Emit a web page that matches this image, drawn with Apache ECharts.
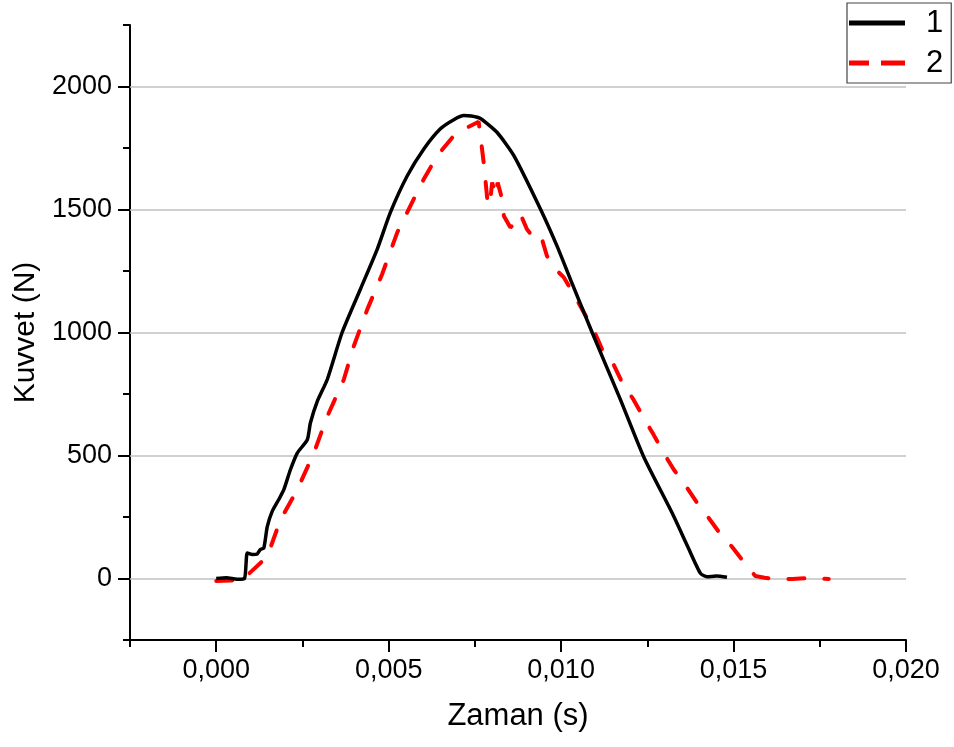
<!DOCTYPE html>
<html>
<head>
<meta charset="utf-8">
<title>Kuvvet - Zaman</title>
<script src="https://cdn.jsdelivr.net/npm/echarts@6/dist/echarts.min.js"></script>
<style>
	html, body { margin: 0; padding: 0; background: #fff; }
	#charts { width: 954px; height: 747px; }
</style>
</head>
<body>
<div id="charts"></div>
<script>
	// 1 numarali olcum: zaman (s) ve kuvvet (N)
	var time1 = [0, 0.0003, 0.0006, 0.00082, 0.0009, 0.00105, 0.00119, 0.00128, 0.00138, 0.00148,
		0.00162, 0.00181, 0.00196, 0.00215, 0.00235, 0.00264, 0.00273, 0.00293, 0.00322, 0.00365,
		0.00418, 0.00467, 0.00505, 0.00554, 0.00602, 0.0065, 0.0069, 0.00718, 0.0074, 0.00766,
		0.00814, 0.00863, 0.0094, 0.00988, 0.01027, 0.0109, 0.01172, 0.01239, 0.01322, 0.01367,
		0.01404, 0.01423, 0.0145, 0.01481];
	var force1 = [0, 3, -3, 0, 104, 98, 100, 118, 124, 211,
		272, 320, 361, 442, 510, 564, 632, 720, 809, 1000,
		1176, 1339, 1488, 1637, 1746, 1828, 1866, 1882, 1880, 1870,
		1814, 1719, 1502, 1352, 1216, 1000, 727, 496, 266, 130,
		21, 7, 10, 5];

	// 2 numarali olcum
	var time2 = [0, 0.0004, 0.00075, 0.00105, 0.00148, 0.00186, 0.00235, 0.00283, 0.00322, 0.0037,
		0.00399, 0.00438, 0.00481, 0.00525, 0.00563, 0.00602, 0.00641, 0.00689, 0.0073, 0.00761,
		0.00776, 0.00786, 0.00793, 0.008, 0.0081, 0.00816, 0.00829, 0.00834, 0.00853, 0.0087,
		0.00882, 0.00901, 0.00916, 0.0094, 0.00959, 0.00984, 0.01008, 0.01037, 0.01066, 0.01094,
		0.01119, 0.01152, 0.01177, 0.0121, 0.01239, 0.01268, 0.01297, 0.01327, 0.01365, 0.01394,
		0.01428, 0.01457, 0.01496, 0.0153, 0.01563, 0.0159, 0.01616, 0.0167, 0.01723, 0.01776];
	var force2 = [-10, -8, -6, 33, 89, 238, 361, 510, 659, 809,
		945, 1094, 1237, 1407, 1515, 1624, 1719, 1800, 1835, 1857,
		1685, 1542, 1515, 1610, 1556, 1610, 1542, 1474, 1427, 1450,
		1481, 1420, 1393, 1400, 1311, 1257, 1224, 1155, 1081, 1012,
		931, 870, 797, 727, 654, 585, 511, 442, 369, 308,
		246, 190, 128, 67, 10, 3, -2, -2, 2, -2];

	var seriesNames = ['1', '2'];
	var xTicks = [0, 0.005, 0.010, 0.015, 0.020];
	var yTicks = [0, 500, 1000, 1500, 2000];

	var FONT = '"Liberation Sans", Arial, sans-serif';

	var ForceChart = {

		init: function () {
			this.renderChart();
		},

		// [zaman, kuvvet] ciftleri
		pairs: function (xs, ys) {
			return xs.map(function (x, i) { return [x, ys[i]]; });
		},

		renderChart: function () {
			var myChart = echarts.init(document.getElementById('charts'));

			var axisLine = { show: true, onZero: false, lineStyle: { color: '#000', width: 2 } };

			var option = {
				animation: false,
				backgroundColor: '#fff',
				grid: { left: 130, right: 48, top: 25, bottom: 107 },
				legend: {
					data: [
						{ name: seriesNames[0], icon: 'path://M0,0H56V5H0Z', itemStyle: { color: '#000' } },
						{ name: seriesNames[1], icon: 'path://M0,0H20V5H0ZM32,0H56V5H32Z', itemStyle: { color: '#ff0000' } }
					],
					orient: 'vertical',
					left: 847,
					top: 3,
					itemWidth: 56,
					itemHeight: 5,
					itemGap: 8,
					padding: [4, 8, 4, 2],
					borderColor: '#444',
					borderWidth: 1.2,
					textStyle: { fontSize: 31, fontFamily: FONT, color: '#000', padding: [0, 0, 0, 16], lineHeight: 32 }
				},
				xAxis: [
					{
						type: 'value',
						min: -0.0025,
						max: 0.02,
						interval: 0.0025,
						name: 'Zaman (s)',
						nameLocation: 'middle',
						nameGap: 61,
						nameTextStyle: { fontSize: 31, fontFamily: FONT, color: '#000' },
						axisLine: axisLine,
						axisTick: { show: true, length: 7, lineStyle: { color: '#000', width: 2 } },
						axisLabel: {
							margin: 17,
							fontSize: 27,
							fontFamily: FONT,
							color: '#000',
							formatter: function (value) {
								var k = Math.round(value / 0.0025);
								if (k < 0 || k % 2 !== 0) return '';
								return value.toFixed(3).replace('.', ',');
							}
						},
						splitLine: { show: false }
					},
					{
						// uzun ana cizgiler
						type: 'value',
						position: 'bottom',
						min: -0.0025,
						max: 0.02,
						axisLine: { show: false, onZero: false },
						axisTick: { show: true, length: 12, customValues: xTicks, lineStyle: { color: '#000', width: 2 } },
						axisLabel: { show: false },
						splitLine: { show: false }
					}
				],
				yAxis: [
					{
						type: 'value',
						min: -250,
						max: 2250,
						interval: 250,
						name: 'Kuvvet (N)',
						nameLocation: 'middle',
						nameGap: 88,
						nameTextStyle: { fontSize: 30, fontFamily: FONT, color: '#000' },
						axisLine: axisLine,
						axisTick: { show: true, length: 7, lineStyle: { color: '#000', width: 2 } },
						axisLabel: {
							margin: 18,
							fontSize: 27,
							fontFamily: FONT,
							color: '#000',
							formatter: function (value) {
								return (value >= 0 && value % 500 === 0) ? String(value) : '';
							}
						},
						splitLine: { show: false }
					},
					{
						type: 'value',
						position: 'left',
						min: -250,
						max: 2250,
						axisLine: { show: false, onZero: false },
						axisTick: { show: true, length: 12, customValues: yTicks, lineStyle: { color: '#000', width: 2 } },
						axisLabel: { show: false },
						splitLine: { show: false }
					}
				],
				series: [
					{
						name: seriesNames[0],
						type: 'line',
						xAxisIndex: 0,
						yAxisIndex: 0,
						symbol: 'none',
						smooth: 0.2,
						z: 3,
						lineStyle: { color: '#000', width: 3.5, join: 'round' },
						itemStyle: { color: '#000' },
						data: this.pairs(time1, force1),
						markLine: {
							silent: true,
							z: 1,
							symbol: ['none', 'none'],
							label: { show: false },
							lineStyle: { color: '#c0c0c0', width: 1.5, type: 'solid' },
							data: yTicks.map(function (v) { return { yAxis: v }; })
						}
					},
					{
						name: seriesNames[1],
						type: 'line',
						xAxisIndex: 0,
						yAxisIndex: 0,
						symbol: 'none',
						z: 2,
						lineStyle: { color: '#ff0000', width: 4, type: [16, 20], cap: 'round' },
						itemStyle: { color: '#ff0000' },
						data: this.pairs(time2, force2)
					}
				]
			};

			myChart.setOption(option);
		}
	};

	ForceChart.init();
</script>
</body>
</html>
